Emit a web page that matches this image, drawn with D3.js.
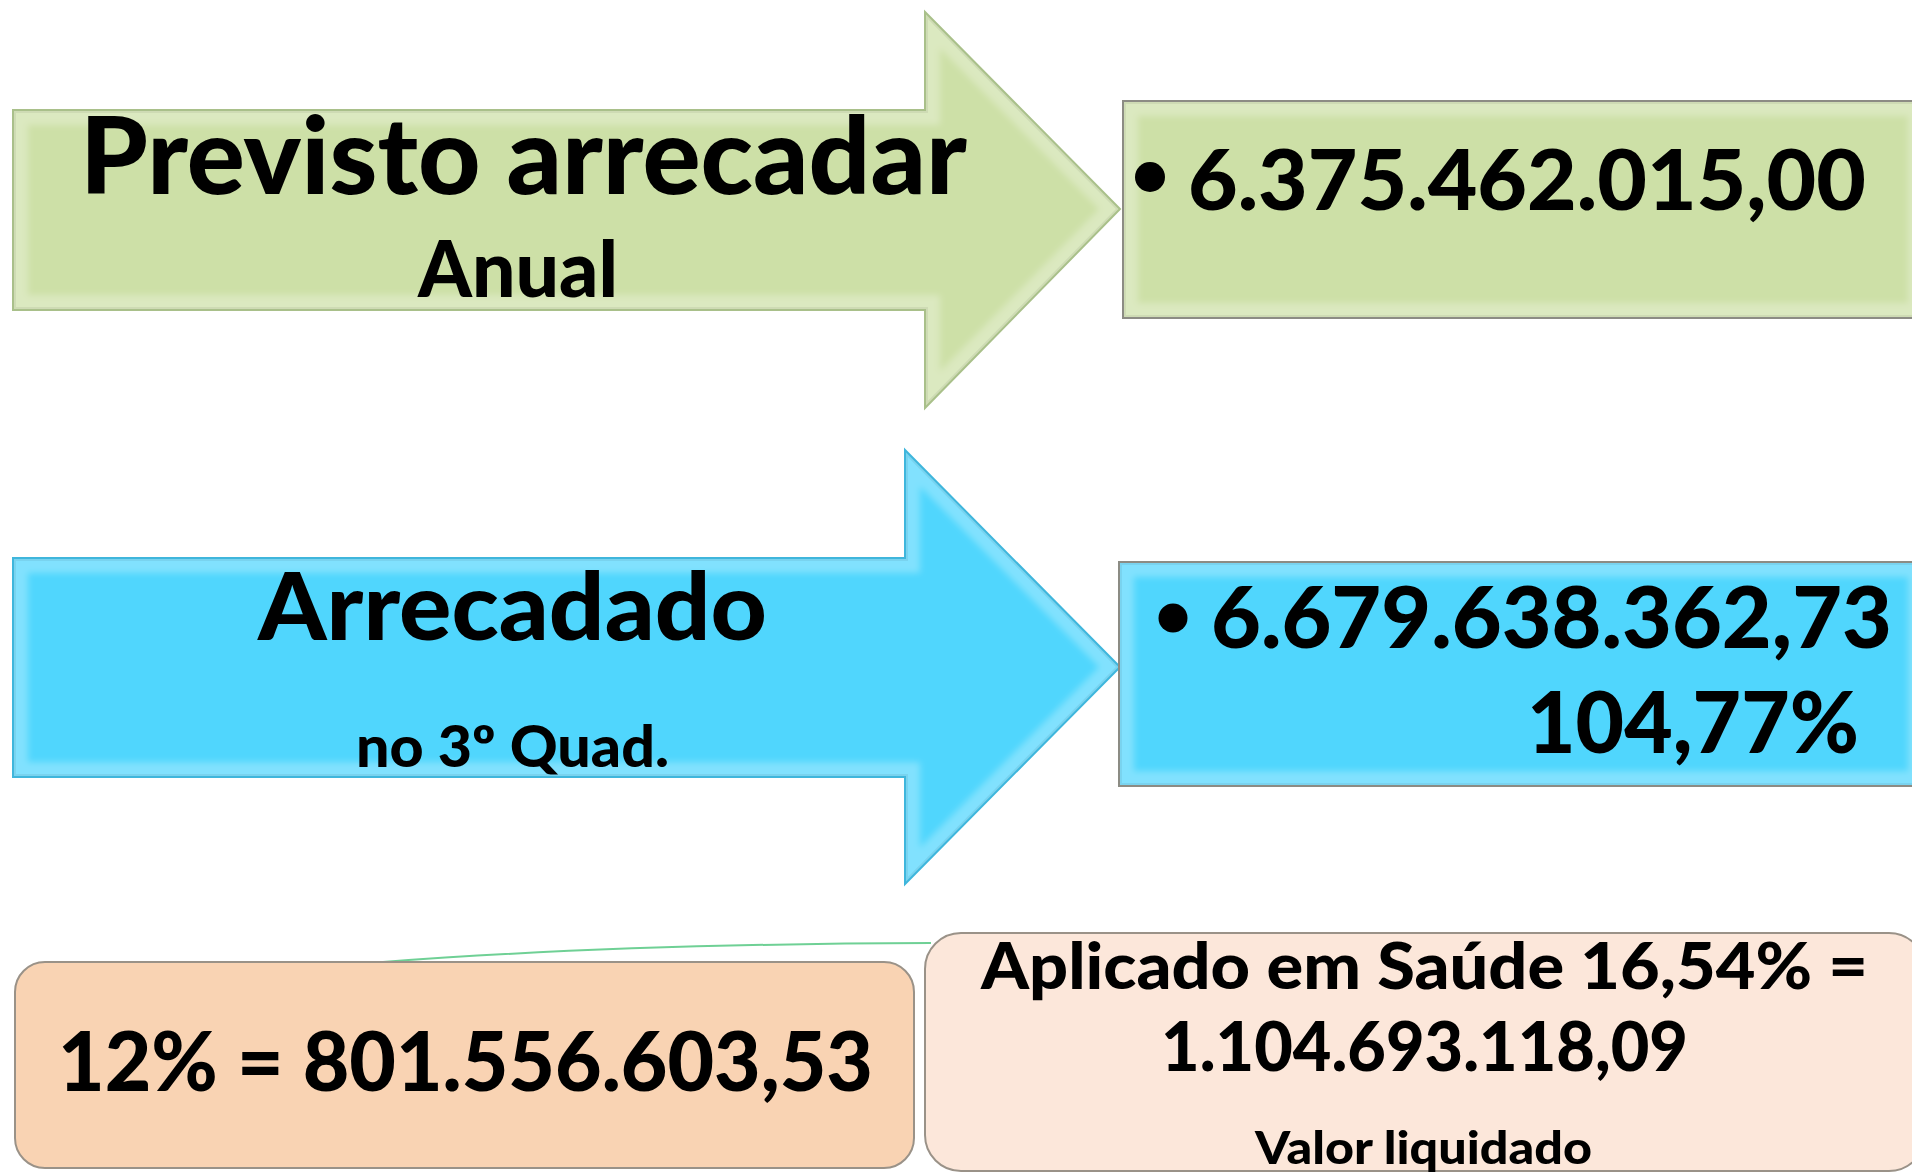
<!DOCTYPE html>
<html>
<head>
<meta charset="utf-8">
<script src="https://cdn.jsdelivr.net/npm/d3@7"></script>
<style>
  html, body { margin: 0; padding: 0; background: #fff; }
  svg { display: block; }
  text { font-family: Lato, "Open Sans", sans-serif; font-weight: 900; fill: #000; }
</style>
</head>
<body>
<div id="svg-container"></div>
<script>
// values
var rowTitles = ["Previsto arrecadar", "Arrecadado"];
var rowSubtitles = ["Anual", "no 3º Quad."];
var rowAmounts = [6375462015.00, 6679638362.73];
var rowPercents = [null, 104.77];
var rowColors = ["#cde0a7", "#50d6fd"];
var rowEdges = ["#a9c08a", "#3fb6dc"];

var minimumShare = 12;
var minimumAmount = 801556603.53;
var appliedLabel = "Aplicado em Saúde";
var appliedShare = 16.54;
var appliedAmount = 1104693118.09;
var appliedNote = "Valor liquidado";

var width = 1912, height = 1173;

var br = d3.formatLocale({ decimal: ",", thousands: ".", grouping: [3], currency: ["R$ ", ""] });
var money = br.format(",.2f");
var pct = function(v) { return (v % 1 === 0 ? br.format("d")(v) : br.format(",.2f")(v)) + "%"; };

var svg = d3.select("#svg-container")
            .append("svg")
            .attr("width", width)
            .attr("height", height);

var defs = svg.append("defs");

defs.append("filter")
    .attr("id", "soft")
    .attr("x", "-10%").attr("y", "-10%")
    .attr("width", "120%").attr("height", "120%")
    .append("feGaussianBlur")
    .attr("stdDeviation", 3);

// geometry of each row (arrow + value box)
var rows = [
  { x0: 13, top: 110, bottom: 310, shoulder: 925, headTop: 12, headBottom: 408, tipX: 1120, tipY: 209,
    box: { x: 1123, y: 101, w: 800, h: 217 },
    title: { x: 80, y: 194, size: 107, len: 887 },
    sub: { x: 418, y: 297, size: 78, len: 200 },
    dot: { cx: 1150, cy: 177, r: 15 },
    amount: { x: 1188, y: 210, size: 83, len: 678 } },
  { x0: 13, top: 558, bottom: 777, shoulder: 905, headTop: 450, headBottom: 884, tipX: 1120, tipY: 667,
    box: { x: 1119, y: 562, w: 804, h: 224 },
    title: { x: 258, y: 640, size: 93, len: 509 },
    sub: { x: 356, y: 767, size: 58, len: 313 },
    dot: { cx: 1173, cy: 618, r: 14.5 },
    amount: { x: 1211, y: 648, size: 85, len: 681 },
    pct: { x: 1527, y: 753, size: 85, len: 332 } }
];

var line = d3.line();

function arrowPoints(r) {
  return [[r.x0, r.top], [r.shoulder, r.top], [r.shoulder, r.headTop], [r.tipX, r.tipY],
          [r.shoulder, r.headBottom], [r.shoulder, r.bottom], [r.x0, r.bottom]];
}

function rectPoints(b) {
  return [[b.x, b.y], [b.x + b.w, b.y], [b.x + b.w, b.y + b.h], [b.x, b.y + b.h]];
}

// shape with a soft bevel along its inner edge
function bevelShape(id, d, fill, edge) {
  defs.append("clipPath").attr("id", id).append("path").attr("d", d);
  var g = svg.append("g");
  g.append("path").attr("d", d).attr("fill", fill);
  var inner = g.append("g").attr("clip-path", "url(#" + id + ")");
  inner.append("path").attr("d", d)
    .attr("fill", "none")
    .attr("stroke", "#fff")
    .attr("stroke-opacity", 0.28)
    .attr("stroke-width", 30)
    .attr("filter", "url(#soft)");
  inner.append("path").attr("d", d)
    .attr("fill", "none")
    .attr("stroke", "#000")
    .attr("stroke-opacity", 0.06)
    .attr("stroke-width", 6);
  g.append("path").attr("d", d)
    .attr("fill", "none")
    .attr("stroke", edge)
    .attr("stroke-width", 2);
  return g;
}

function label(t, str) {
  svg.append("text")
     .attr("x", t.x)
     .attr("y", t.y)
     .attr("font-size", t.size)
     .attr("textLength", t.len)
     .attr("lengthAdjust", "spacingAndGlyphs")
     .text(str);
}

rows.forEach(function(r, i) {
  bevelShape("arrow" + i, line(arrowPoints(r)) + "Z", rowColors[i], rowEdges[i]);
  bevelShape("box" + i, line(rectPoints(r.box)) + "Z", rowColors[i], "#8c8c84");

  label(r.title, rowTitles[i]);
  label(r.sub, rowSubtitles[i]);

  svg.append("circle")
     .attr("cx", r.dot.cx)
     .attr("cy", r.dot.cy)
     .attr("r", r.dot.r)
     .attr("fill", "#000");

  label(r.amount, money(rowAmounts[i]));
  if (rowPercents[i] != null) label(r.pct, pct(rowPercents[i]));
});

// thin green connector above the bottom boxes
svg.append("path")
   .attr("d", "M383,962 Q620,944 931,943")
   .attr("fill", "none")
   .attr("stroke", "#6fd095")
   .attr("stroke-width", 2);

// bottom boxes
svg.append("rect")
   .attr("x", 15).attr("y", 962)
   .attr("width", 899).attr("height", 206)
   .attr("rx", 30).attr("ry", 30)
   .attr("fill", "#f9d3b3")
   .attr("stroke", "#9a9288")
   .attr("stroke-width", 2);

svg.append("rect")
   .attr("x", 925).attr("y", 933)
   .attr("width", 1000).attr("height", 238)
   .attr("rx", 36).attr("ry", 36)
   .attr("fill", "#fce7da")
   .attr("stroke", "#9a9288")
   .attr("stroke-width", 2);

label({ x: 58, y: 1091, size: 82, len: 815 }, pct(minimumShare) + " = " + money(minimumAmount));
label({ x: 981, y: 989, size: 65, len: 887 }, appliedLabel + " " + pct(appliedShare) + " =");
label({ x: 1161, y: 1071, size: 68, len: 527 }, money(appliedAmount));
label({ x: 1255, y: 1164, size: 46, len: 337 }, appliedNote);
</script>
</body>
</html>
